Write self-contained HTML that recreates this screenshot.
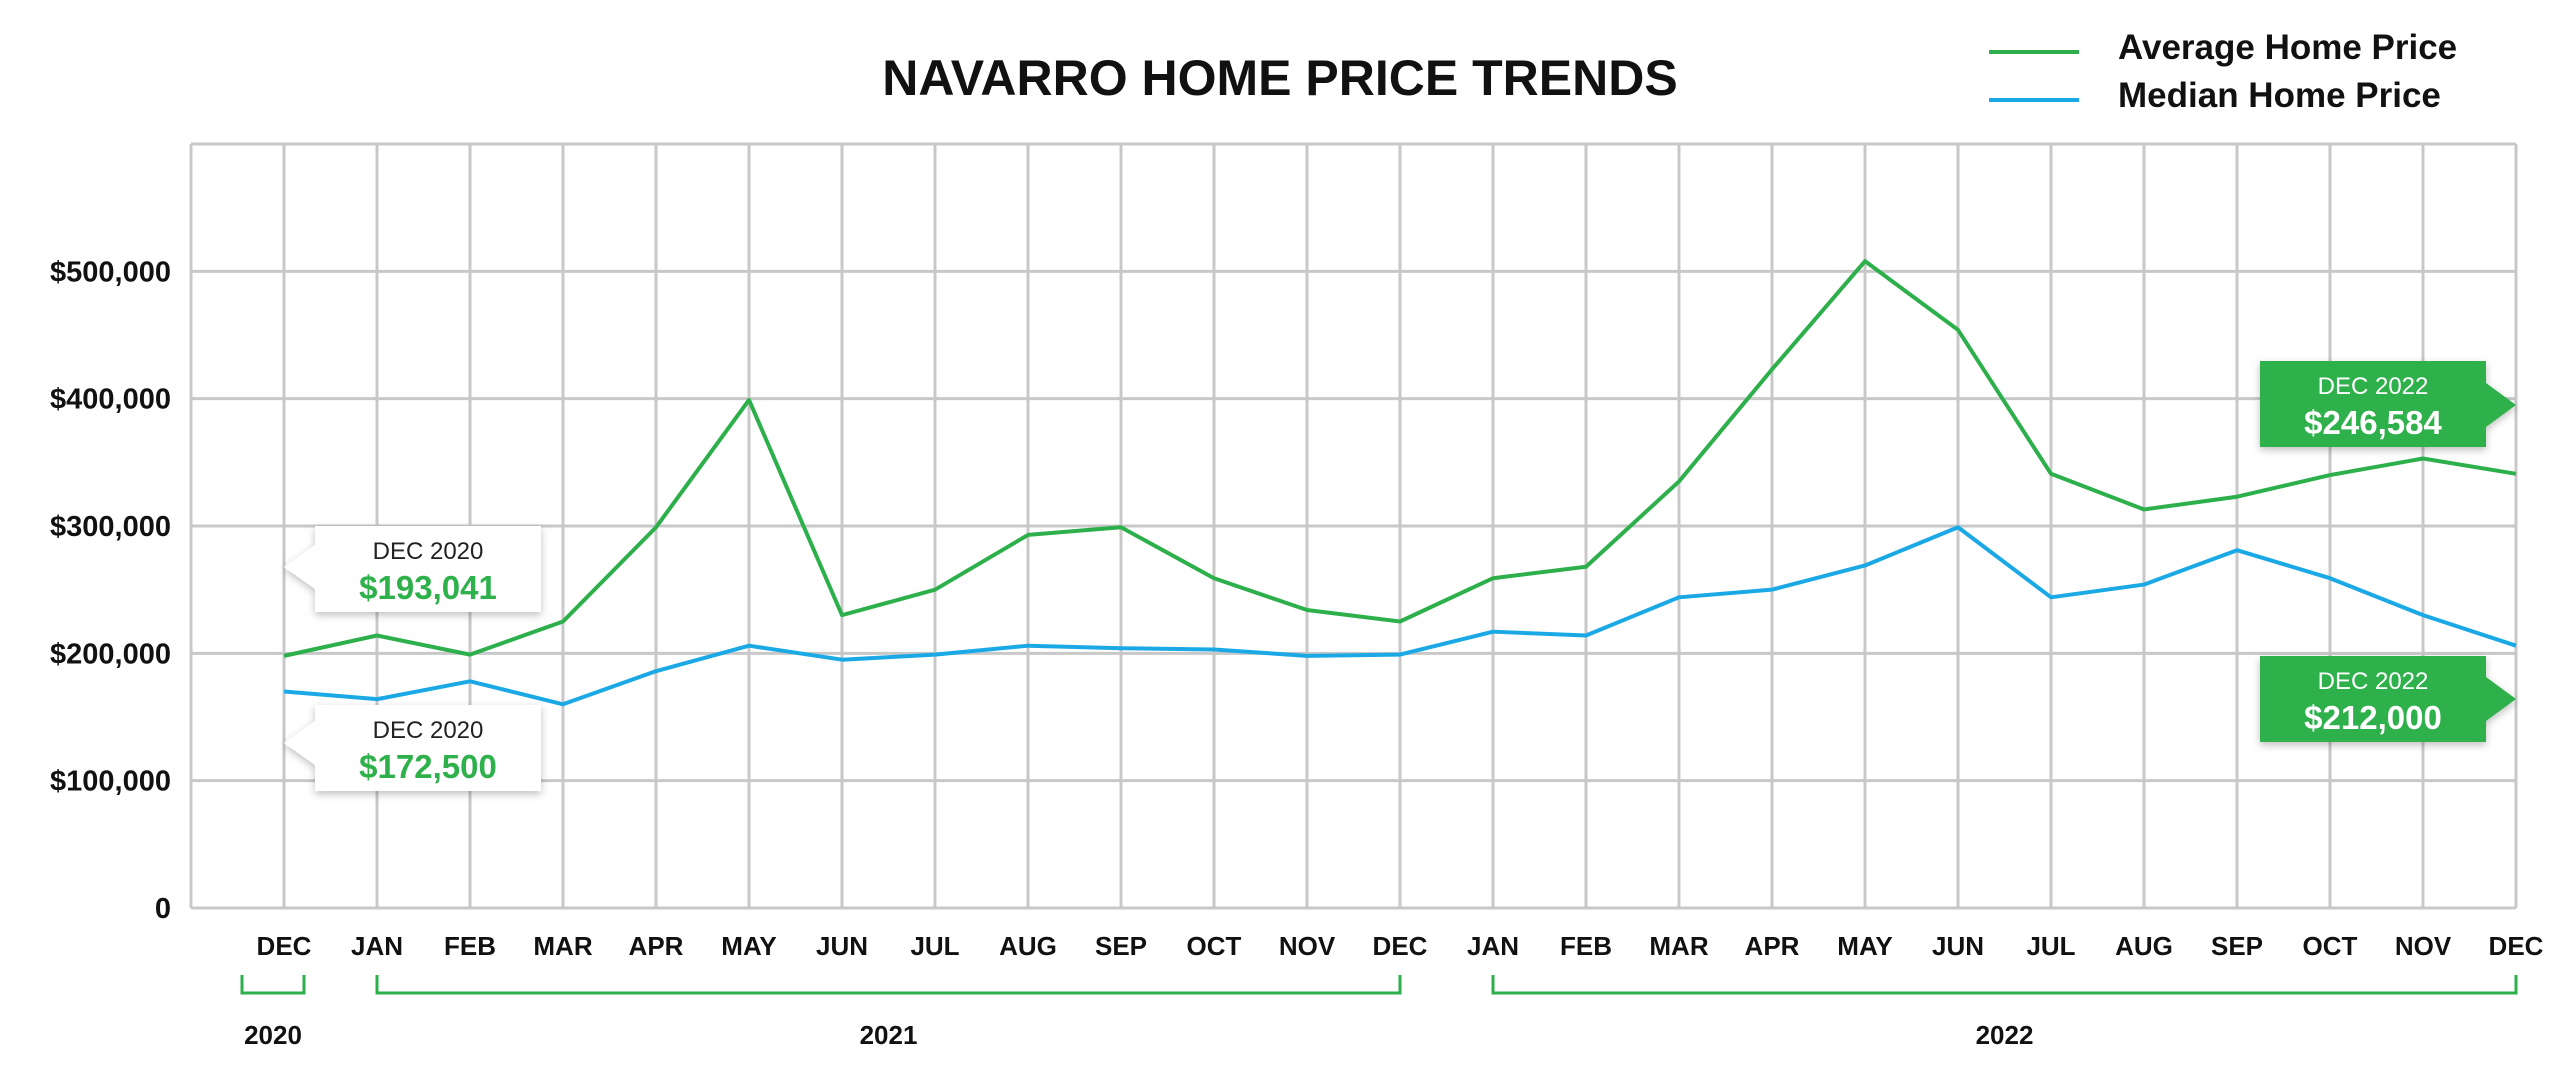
<!DOCTYPE html>
<html><head><meta charset="utf-8"><style>
html,body{margin:0;padding:0;background:#fff}
svg{display:block}
text{font-family:"Liberation Sans",sans-serif}
</style></head><body>
<svg id="chart" width="2560" height="1067" viewBox="0 0 2560 1067" xmlns="http://www.w3.org/2000/svg">
<defs><filter id="sh" x="-20%" y="-20%" width="140%" height="160%"><feDropShadow dx="0" dy="3" stdDeviation="4" flood-color="#000" flood-opacity="0.25"/></filter></defs>
<text x="1280" y="95" text-anchor="middle" font-size="50" font-weight="bold" fill="#111">NAVARRO HOME PRICE TRENDS</text>
<g>
<line x1="1989" y1="52" x2="2079" y2="52" stroke="#2db04b" stroke-width="4"/>
<text x="2118" y="59" font-size="35" font-weight="bold" fill="#111">Average Home Price</text>
<line x1="1989" y1="100" x2="2079" y2="100" stroke="#1ba9e6" stroke-width="4"/>
<text x="2118" y="107" font-size="35" font-weight="bold" fill="#111">Median Home Price</text>
</g>
<g id="grid"></g><g id="axes"></g><g id="series"></g><g id="callouts"></g>
</svg>
<script>
const months=["DEC","JAN","FEB","MAR","APR","MAY","JUN","JUL","AUG","SEP","OCT","NOV","DEC","JAN","FEB","MAR","APR","MAY","JUN","JUL","AUG","SEP","OCT","NOV","DEC"];
const averagePrice=[198000,214000,199000,225000,299000,399000,230000,250000,293000,299000,259000,234000,225000,259000,268000,335000,423000,508000,454000,341000,313000,323000,340000,353000,341000];
const medianPrice=[170000,164000,178000,160000,186000,206000,195000,199000,206000,204000,203000,198000,199000,217000,214000,244000,250000,269000,299000,244000,254000,281000,259000,230000,206000];
const yTicks=[0,100000,200000,300000,400000,500000];
const yTickLabels=["0","$100,000","$200,000","$300,000","$400,000","$500,000"];
const years=[{label:"2020",from:0,to:0},{label:"2021",from:1,to:12},{label:"2022",from:13,to:24}];
const callouts=[{side:"left",idx:0,title:"DEC 2020",value:"$193,041",top:526,ptrY:567},{side:"left",idx:0,title:"DEC 2020",value:"$172,500",top:705,ptrY:743},{side:"right",idx:24,title:"DEC 2022",value:"$246,584",top:361,ptrY:405},{side:"right",idx:24,title:"DEC 2022",value:"$212,000",top:656,ptrY:699}];

const NS="http://www.w3.org/2000/svg";
const X0=284,DX=93,Y0=908,YMAX=600000,YTOP=144;
const xs=i=>X0+i*DX;
const ys=v=>Y0-(v/YMAX)*(Y0-YTOP);
function mk(tag,attrs,parent){const e=document.createElementNS(NS,tag);for(const k in attrs)e.setAttribute(k,attrs[k]);parent.appendChild(e);return e;}
const grid=document.getElementById('grid'),axes=document.getElementById('axes'),series=document.getElementById('series'),co=document.getElementById('callouts');
const left=xs(-1),right=xs(months.length-1);
for(let i=-1;i<months.length;i++){
  const l=mk('line',{x1:xs(i),y1:YTOP,x2:xs(i),y2:Y0,stroke:'#c8c8c8','stroke-width':3},grid);
  
  
}
for(let v=0;v<=YMAX;v+=100000){
  const l=mk('line',{x1:left,y1:ys(v),x2:right,y2:ys(v),stroke:'#c8c8c8','stroke-width':3},grid);
  
  
}
yTicks.forEach((v,i)=>{
  const t=mk('text',{x:171,y:ys(v)+10,'text-anchor':'end','font-size':29,'font-weight':'bold',fill:'#111'},axes);
  t.textContent=yTickLabels[i];
  
  
});
months.forEach((m,i)=>{
  const t=mk('text',{x:xs(i),y:955,'text-anchor':'middle','font-size':26,'font-weight':'bold',fill:'#111'},axes);
  t.textContent=m;
  
  
});
years.forEach(y=>{
  let a=xs(y.from),b=xs(y.to);
  if(y.from===y.to){a-=42;b+=20;}
  const p=mk('path',{d:`M${a} 975 V993 H${b} V975`,fill:'none',stroke:'#2db04b','stroke-width':3},axes);
  
  
  const t=mk('text',{x:(a+b)/2,y:1044,'text-anchor':'middle','font-size':26,'font-weight':'bold',fill:'#111'},axes);
  t.textContent=y.label;
  
  
});
function line(data,color,name){
  const d=data.map((v,i)=>(i?'L':'M')+xs(i)+' '+ys(v)).join(' ');
  const p=mk('path',{d:d,fill:'none',stroke:color,'stroke-width':4,'stroke-linejoin':'round'},series);
  
  
}
line(averagePrice,'#2db04b','average-price-line');
line(medianPrice,'#1ba9e6','median-price-line');
callouts.forEach(c=>{
  const g=mk('g',{filter:'url(#sh)'},co);
  
  
  const w=226,h=86,px=xs(c.idx);
  let bx,d,bg,tc,vc;
  if(c.side==='left'){bx=px+31;d=`M${bx} ${c.top} H${bx+w} V${c.top+h} H${bx} V${c.ptrY+22} L${px} ${c.ptrY} L${bx} ${c.ptrY-22} Z`;bg='#fff';tc='#222';vc='#2db04b';}
  else{bx=px-256;d=`M${bx} ${c.top} H${bx+w} V${c.ptrY-22} L${px} ${c.ptrY} L${bx+w} ${c.ptrY+22} V${c.top+h} H${bx} Z`;bg='#2db04b';tc='#fff';vc='#fff';}
  mk('path',{d:d,fill:bg},g);
  const t1=mk('text',{x:bx+w/2,y:c.top+33,'text-anchor':'middle','font-size':24,fill:tc},g);t1.textContent=c.title;
  const t2=mk('text',{x:bx+w/2,y:c.top+73,'text-anchor':'middle','font-size':33,'font-weight':'bold',fill:vc},g);t2.textContent=c.value;
});
</script>
</body></html>
